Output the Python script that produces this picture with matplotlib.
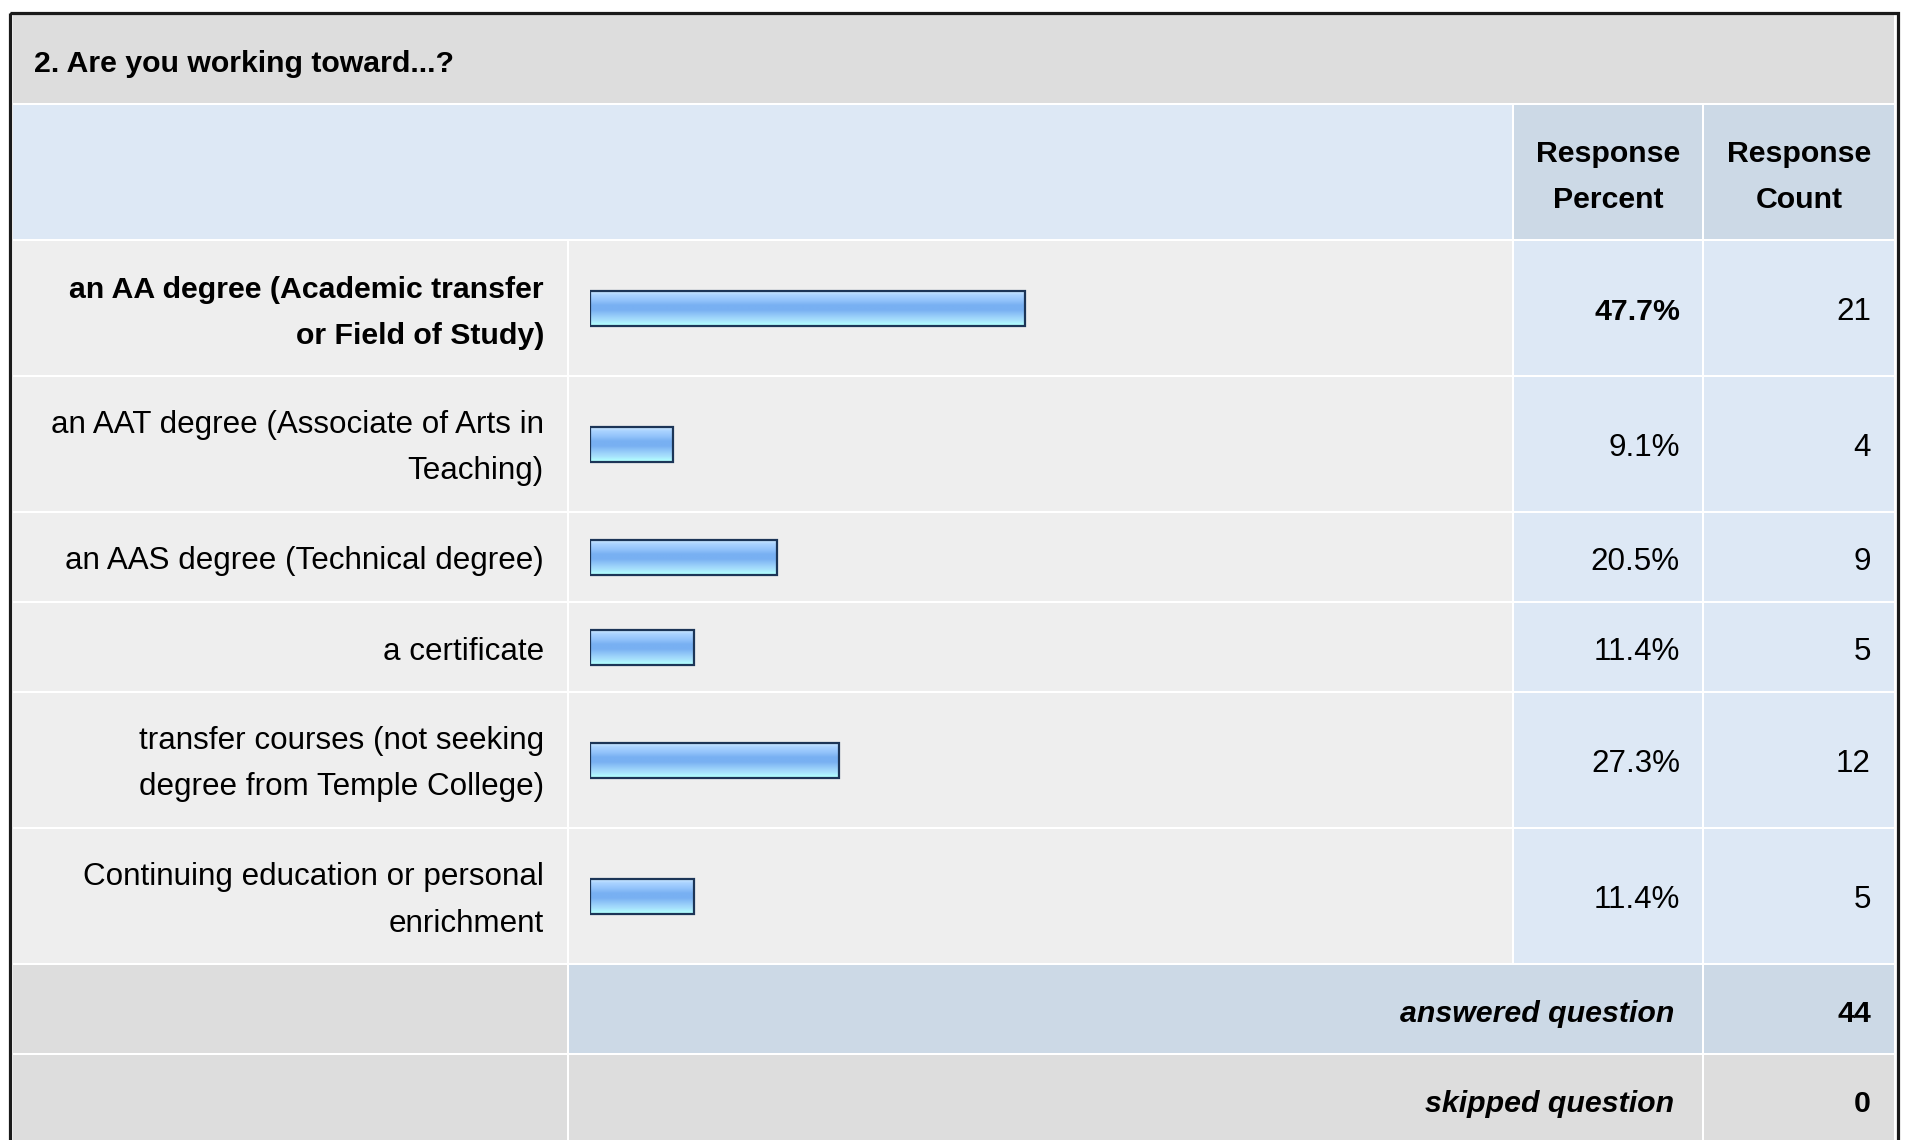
import matplotlib
matplotlib.use("Agg")
import matplotlib.pyplot as plt
from matplotlib.patches import Rectangle
from matplotlib.colors import LinearSegmentedColormap
import numpy as np

# ---------------- data ----------------
title = "2. Are you working toward...?"
categories = [
    "an AA degree (Academic transfer\nor Field of Study)",
    "an AAT degree (Associate of Arts in\nTeaching)",
    "an AAS degree (Technical degree)",
    "a certificate",
    "transfer courses (not seeking\ndegree from Temple College)",
    "Continuing education or personal\nenrichment",
]
percents = [47.7, 9.1, 20.5, 11.4, 27.3, 11.4]
counts = [21, 4, 9, 5, 12, 5]
col_headers = ["Response\nPercent", "Response\nCount"]
summary_labels = ["answered question", "skipped question"]
summary_values = [44, 0]

# ---------------- style ----------------
FONT = "Liberation Sans"
FS_BOLD = 21.8
FS_REG = 22.6
C_TITLE = "#dddddd"
C_HEAD = "#dde8f5"
C_HEADCELL = "#ccd9e6"
C_ROW = "#eeeeee"
C_VAL = "#dde8f5"
C_ANS = "#ccd9e6"
C_SKIP = "#dddddd"
C_BORDER = "#1a1a1a"

W, H = 1909, 1140
fig = plt.figure(figsize=(W / 100, H / 100), dpi=100)
fig.patch.set_facecolor("white")
bg = fig.add_axes([0, 0, 1, 1])
bg.set_xlim(0, W)
bg.set_ylim(H, 0)
bg.axis("off")

# column edges (px)
X0, X1 = 13, 567      # label column
X2, X3 = 569, 1512    # bar column
X4, X5 = 1514, 1702   # percent column
X6, X7 = 1704, 1894   # count column
GAP = 2
LINE = 46
BASE_OFF = 12.5


def cell(x0, x1, y0, y1, c):
    bg.add_patch(Rectangle((x0, y0), x1 - x0, y1 - y0, facecolor=c, edgecolor="none", zorder=1))


def lines_text(x, yc, s, ha, weight="normal", style="normal"):
    parts = s.split("\n")
    n = len(parts)
    fs = FS_BOLD if weight == "bold" else FS_REG
    for i, p in enumerate(parts):
        y = yc + (i - (n - 1) / 2) * LINE + BASE_OFF
        bg.text(x, y, p, ha=ha, va="baseline", fontsize=fs, family=FONT,
                fontweight=weight, fontstyle=style, color="black", zorder=5)


# outer border
bg.add_patch(Rectangle((9.5, 12.5), 1888, H + 20, facecolor="none", edgecolor=C_BORDER,
                       linewidth=2.3, zorder=6))

# title band
cell(X0, X7, 15, 103, C_TITLE)
bg.text(34, 72, title, ha="left", va="baseline", fontsize=FS_BOLD, family=FONT,
        fontweight="bold", zorder=5)

# header band
hy0, hy1 = 105, 239
cell(X0, X3, hy0, hy1, C_HEAD)
cell(X4, X5, hy0, hy1, C_HEADCELL)
cell(X6, X7, hy0, hy1, C_HEADCELL)
hc = (hy0 + hy1) / 2
lines_text((X4 + X5) / 2, hc, col_headers[0], "center", weight="bold")
lines_text((X6 + X7) / 2, hc, col_headers[1], "center", weight="bold")

# answer rows
row_h = [134 if "\n" in c else 88 for c in categories]
y = hy1 + GAP
centers = []
maxp = max(percents)
for cat, p, n, h in zip(categories, percents, counts, row_h):
    y0, y1 = y, y + h
    cell(X0, X1, y0, y1, C_ROW)
    cell(X2, X3, y0, y1, C_ROW)
    cell(X4, X5, y0, y1, C_VAL)
    cell(X6, X7, y0, y1, C_VAL)
    yc = (y0 + y1) / 2
    centers.append(yc)
    bold = "bold" if p == maxp else "normal"
    lines_text(X1 - 23, yc, cat, "right", weight=bold)
    lines_text(X5 - 22, yc, f"{p:.1f}%", "right", weight=bold)
    lines_text(X7 - 23, yc, str(n), "right")
    y = y1 + GAP

# summary rows
sum_colors = [(C_SKIP, C_ANS, C_ANS), (C_SKIP, C_SKIP, C_SKIP)]
for lab, val, cols in zip(summary_labels, summary_values, sum_colors):
    y0, y1 = y, y + 88
    cell(X0, X1, y0, y1, cols[0])
    cell(X2, X5, y0, y1, cols[1])
    cell(X6, X7, y0, y1, cols[2])
    yc = (y0 + y1) / 2
    lines_text(X5 - 28, yc, lab, "right", weight="bold", style="italic")
    lines_text(X7 - 23, yc, str(val), "right", weight="bold")
    y = y1 + GAP

# ---------------- bars ----------------
BX0, BW = 590, 912
bax = fig.add_axes([BX0 / W, 0, BW / W, 1])
bax.set_xlim(0, 100)
bax.set_ylim(H, 0)
bax.axis("off")
bax.patch.set_alpha(0)

grad = LinearSegmentedColormap.from_list(
    "bar", ["#d4ecff", "#a8d2ff", "#94c4fb", "#78b0f2", "#78b0f2", "#92c8f8", "#a6defc", "#b2ffff"])
BH = 35
bars = bax.barh(centers, percents, height=BH, left=0, color="none",
                edgecolor="#1c3557", linewidth=1.6, zorder=4)
g = np.linspace(0, 1, 64).reshape(-1, 1)
for b, yc, p in zip(bars, centers, percents):
    im = bax.imshow(g, cmap=grad, aspect="auto", extent=(0, p, yc + BH / 2, yc - BH / 2),
                    zorder=3, interpolation="bilinear")
    im.set_clip_path(b)
bax.set_xlim(0, 100)
bax.set_ylim(H, 0)

fig.savefig("out.png", dpi=100, facecolor="white")
